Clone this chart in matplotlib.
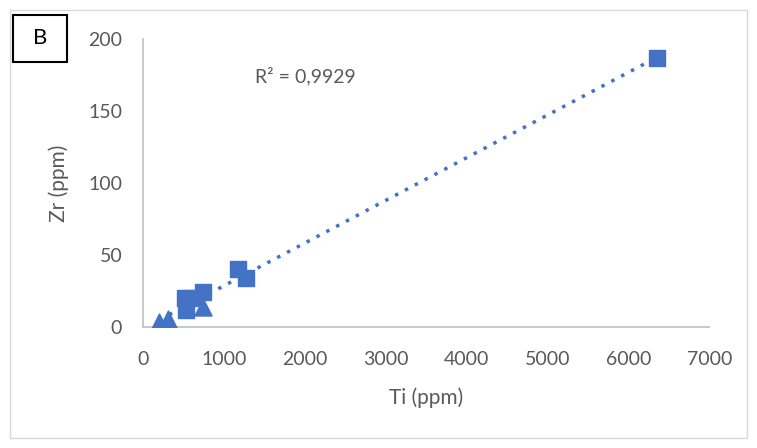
import numpy as np
import matplotlib.pyplot as plt
from matplotlib.patches import Rectangle

# data
sq_ti = [6357, 1175, 1274, 520, 530, 620, 740]
sq_zr = [187, 40, 34, 20.5, 11.5, 20, 24]
tri_ti = [200, 310, 740]
tri_zr = [3.5, 5.5, 14]

blue = '#4472C4'
grey = '#595959'

plt.rcParams['font.family'] = ['Lato', 'DejaVu Sans']

fig = plt.figure(figsize=(7.57, 4.48), dpi=100)
ax = fig.add_axes([0.189, 0.270, 0.748, 0.643])

ax.scatter(sq_ti, sq_zr, marker='s', s=130, color=blue, zorder=3)
ax.scatter(tri_ti, tri_zr, marker='^', s=150, color=blue, zorder=3)

# linear trendline on all points
x_all = np.array(sq_ti + tri_ti)
y_all = np.array(sq_zr + tri_zr)
k, b = np.polyfit(x_all, y_all, 1)
xs = np.array([x_all.min(), x_all.max()])
ax.plot(xs, k * xs + b, linestyle=(0, (1, 2.2)), color=blue, lw=2.5, zorder=2)

fig.text(255 / 757, 1 - 76 / 448, 'R² = 0,9929', fontsize=14, color=grey,
         va='center', ha='left')

ax.set_xlim(0, 7000)
ax.set_ylim(0, 200)
ax.set_xticks(range(0, 7001, 1000))
ax.set_yticks(range(0, 201, 50))
ax.tick_params(length=0, labelsize=14, colors=grey)
ax.tick_params(axis='x', pad=17)
ax.tick_params(axis='y', pad=15)
for s in ['top', 'right']:
    ax.spines[s].set_visible(False)
for s in ['left', 'bottom']:
    ax.spines[s].set_color('#BFBFBF')
    ax.spines[s].set_linewidth(1.2)

ax.set_xlabel('Ti (ppm)', fontsize=15, color=grey, labelpad=14)
ax.set_ylabel('Zr (ppm)', fontsize=15, color=grey, labelpad=14)

# chart border and panel label
fig.patches.append(Rectangle((10 / 757, 10 / 448), 737 / 757, 428 / 448,
                             transform=fig.transFigure, fill=False,
                             edgecolor='#D9D9D9', lw=1))
fig.patches.append(Rectangle((13 / 757, 1 - 62 / 448), 54 / 757, 47 / 448,
                             transform=fig.transFigure, fill=False,
                             edgecolor='black', lw=1.5))
fig.text(40 / 757, 1 - 38 / 448, 'B', fontsize=16, ha='center', va='center')

fig.savefig('out.png', dpi=100)
